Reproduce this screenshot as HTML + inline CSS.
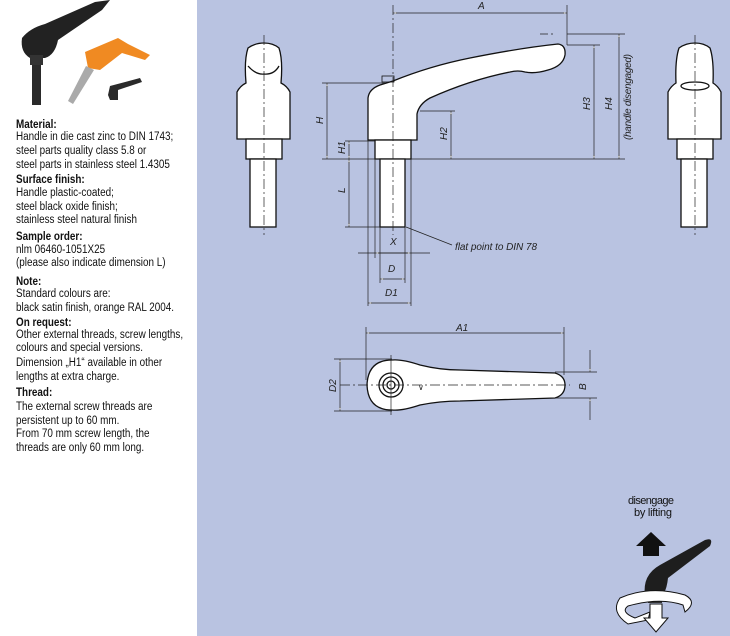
<!DOCTYPE html>
<html><head><meta charset="utf-8"><style>
html,body{margin:0;padding:0;width:730px;height:636px;overflow:hidden;background:#fff}
#l{position:absolute;left:0;top:0;width:197px;height:636px;background:#fff}
#r{position:absolute;left:197px;top:0;width:533px;height:636px;background:#b9c3e1}
.t{position:absolute;left:16px;font-family:"Liberation Sans",sans-serif;font-size:11.5px;line-height:12px;color:#111;white-space:nowrap;transform:scaleX(0.86);transform-origin:0 0}
.b{font-weight:bold}
svg{position:absolute;left:0;top:0}
</style></head><body>
<div id="l"></div><div id="r"></div>
<svg width="730" height="636" viewBox="0 0 730 636">
<defs>
<marker id="a" viewBox="0 0 10 6" refX="10" refY="3" markerWidth="8" markerHeight="3" orient="auto-start-reverse"><path d="M0,0 L10,3 L0,6 z" fill="#fff" stroke="#222" stroke-width="0.8"/></marker>
</defs>
<!-- photos -->
<path d="M22,38 Q30,28 45,24 L95,2 L110,0 L102,10 L58,40 Q55,55 45,58 L30,58 Q20,52 22,38z" fill="#222"/>
<rect x="30" y="55" width="13" height="10" fill="#333"/>
<rect x="32" y="65" width="9" height="40" fill="#2a2a2a"/>
<path d="M85,52 L118,38 L128,44 L150,55 L145,60 L122,53 L100,70 L88,68z" fill="#f08a22"/>
<path d="M86,66 L94,70 L73,104 L68,101z" fill="#aaa"/>
<path d="M108,95 L110,86 L140,78 L142,82 L118,90 L118,100 L110,100z" fill="#2a2a2a"/>
<g stroke="#111" stroke-width="1.3" fill="#fff">
<path d="M368,140 L368,98 Q369,89 380,85 L393,81 Q430,66 470,58 Q520,48 558,44 Q566,45 565,55 Q563,66 548,70 Q535,74 525,72 Q518,70 510,72 Q470,80 430,98 Q419,104 417,114 L417,140 z"/>
<rect x="375" y="140" width="36" height="19"/>
<rect x="380" y="159" width="25" height="68"/>
<rect x="382" y="76" width="12" height="6" fill="none" stroke-width="0.8"/>
<path d="M237,139 L237,92 Q240,86 246,83 Q244,60 248,48 Q255,43 264,43 Q273,43 279,48 Q283,60 281,83 Q287,86 290,92 L290,139 z"/>
<path d="M248,66 Q256,75 264,74 Q274,75 279,66" fill="none"/>
<rect x="246" y="139" width="36" height="20"/>
<rect x="250" y="159" width="26" height="68"/>
<path d="M668,139 L668,92 Q671,86 676,83 Q675,60 679,48 Q686,43 695,43 Q704,43 710,48 Q714,60 713,83 Q718,86 721,92 L721,139 z"/>
<ellipse cx="695" cy="86" rx="14" ry="4" fill="none"/>
<rect x="677" y="139" width="36" height="20"/>
<rect x="681" y="159" width="26" height="68"/>
<path d="M392,360 Q402,359 420,365 Q440,370 460,370 L555,373 Q565,376 565,385 Q565,395 555,398 L460,401 Q440,401 420,405 Q402,411 392,410 Q368,410 367,385 Q368,360 392,360 z"/>
<circle cx="391" cy="385" r="12"/>
<circle cx="391" cy="385" r="8"/>
<circle cx="391" cy="385" r="4"/>
</g>
<g stroke="#222" stroke-width="0.7" fill="none">
<line x1="264" y1="35" x2="264" y2="235" stroke-dasharray="10,3,2,3"/>
<line x1="695" y1="35" x2="695" y2="235" stroke-dasharray="10,3,2,3"/>
<line x1="393" y1="5" x2="393" y2="235" stroke-dasharray="10,3,2,3"/>
<line x1="340" y1="385" x2="570" y2="385" stroke-dasharray="10,3,2,3"/>
<line x1="391" y1="355" x2="391" y2="415"/>
<line x1="567" y1="5" x2="567" y2="45"/>
<line x1="322" y1="159" x2="625" y2="159"/>
<line x1="322" y1="83" x2="385" y2="83"/>
<line x1="345" y1="141" x2="375" y2="141"/>
<line x1="345" y1="227" x2="380" y2="227"/>
<line x1="420" y1="111" x2="455" y2="111"/>
<line x1="567" y1="45" x2="600" y2="45"/>
<line x1="567" y1="34" x2="625" y2="34"/>
<line x1="540" y1="34" x2="555" y2="34" stroke-dasharray="8,3,2,3"/>
<line x1="375" y1="159" x2="375" y2="258"/><line x1="411" y1="159" x2="411" y2="306"/>
<line x1="368" y1="140" x2="368" y2="306"/><line x1="380" y1="227" x2="380" y2="283"/><line x1="405" y1="227" x2="405" y2="283"/>
<line x1="358" y1="253" x2="430" y2="253"/>
<line x1="406" y1="227" x2="452" y2="245"/>
<line x1="366" y1="327" x2="366" y2="380"/><line x1="564" y1="327" x2="564" y2="375"/>
<line x1="334" y1="359" x2="392" y2="359"/><line x1="334" y1="411" x2="392" y2="411"/>
<line x1="555" y1="372" x2="597" y2="372"/><line x1="555" y1="398" x2="597" y2="398"/>
</g>
<g stroke="#222" stroke-width="0.7" marker-start="url(#a)" marker-end="url(#a)">
<line x1="393" y1="13" x2="567" y2="13"/>
<line x1="327" y1="83" x2="327" y2="159"/>
<line x1="349" y1="141" x2="349" y2="159"/>
<line x1="349" y1="159" x2="349" y2="227"/>
<line x1="451" y1="111" x2="451" y2="159"/>
<line x1="594" y1="45" x2="594" y2="159"/>
<line x1="619" y1="34" x2="619" y2="159"/>
<line x1="375" y1="253" x2="411" y2="253"/>
<line x1="380" y1="279" x2="405" y2="279"/>
<line x1="368" y1="303" x2="411" y2="303"/>
<line x1="366" y1="333" x2="564" y2="333"/>
<line x1="340" y1="359" x2="340" y2="411"/>
</g>
<g stroke="#222" stroke-width="0.7" marker-end="url(#a)">
<line x1="590" y1="350" x2="590" y2="372"/><line x1="590" y1="420" x2="590" y2="398"/>
</g>
<g font-family="Liberation Sans,sans-serif" font-size="10" font-style="italic" fill="#222">
<text x="478" y="9">A</text>
<text x="456" y="331">A1</text>
<text x="390" y="245">X</text>
<text x="388" y="272">D</text>
<text x="385" y="296">D1</text>
<text x="455" y="250" textLength="82">flat point to DIN 78</text>
<text transform="translate(323,124) rotate(-90)">H</text>
<text transform="translate(345,154) rotate(-90)">H1</text>
<text transform="translate(345,193) rotate(-90)">L</text>
<text transform="translate(447,140) rotate(-90)">H2</text>
<text transform="translate(590,110) rotate(-90)">H3</text>
<text transform="translate(612,110) rotate(-90)">H4</text>
<text transform="translate(631,140) rotate(-90)" textLength="86">(handle disengaged)</text>
<text transform="translate(336,392) rotate(-90)">D2</text>
<text transform="translate(586,390) rotate(-90)">B</text>
</g>
<text x="418" y="390" font-family="Liberation Sans,sans-serif" font-size="8" fill="#222">&#x2228;</text>
<g font-family="Liberation Sans,sans-serif" font-size="11" fill="#111" text-anchor="middle">
<text x="651" y="504" textLength="46">disengage</text><text x="653" y="516" textLength="38">by lifting</text>
</g>
<path d="M643,556 L643,546 L636,546 L651,532 L666,546 L659,546 L659,556z" fill="#111"/>
<path d="M645,596 Q642,575 660,565 L705,540 Q714,537 710,546 L668,578 Q666,598 655,600z" fill="#1e1e1e"/>
<rect x="648" y="595" width="14" height="8" fill="#333"/>
<path d="M620,598 Q650,585 685,595 Q698,602 685,612 L683,605 Q660,597 628,606 Q620,612 635,618 L650,612 L648,620 L628,624 Q610,612 620,598z" fill="#fff" stroke="#111" stroke-width="1"/>
<path d="M650,604 L662,604 L662,618 L668,618 L656,632 L644,618 L650,618z" fill="#fff" stroke="#111" stroke-width="1"/>
</svg>
<div class="t b" style="top:119px">Material:</div>
<div class="t" style="top:131px">Handle in die cast zinc to DIN 1743;</div>
<div class="t" style="top:145px">steel parts quality class 5.8 or</div>
<div class="t" style="top:159px">steel parts in stainless steel 1.4305</div>
<div class="t b" style="top:174px">Surface finish:</div>
<div class="t" style="top:187px">Handle plastic-coated;</div>
<div class="t" style="top:201px">steel black oxide finish;</div>
<div class="t" style="top:214px">stainless steel natural finish</div>
<div class="t b" style="top:231px">Sample order:</div>
<div class="t" style="top:244px">nlm 06460-1051X25</div>
<div class="t" style="top:257px">(please also indicate dimension L)</div>
<div class="t b" style="top:276px">Note:</div>
<div class="t" style="top:288px">Standard colours are:</div>
<div class="t" style="top:302px">black satin finish, orange RAL 2004.</div>
<div class="t b" style="top:317px">On request:</div>
<div class="t" style="top:329px">Other external threads, screw lengths,</div>
<div class="t" style="top:342px">colours and special versions.</div>
<div class="t" style="top:357px">Dimension „H1“ available in other</div>
<div class="t" style="top:371px">lengths at extra charge.</div>
<div class="t b" style="top:387px">Thread:</div>
<div class="t" style="top:401px">The external screw threads are</div>
<div class="t" style="top:415px">persistent up to 60 mm.</div>
<div class="t" style="top:428px">From 70 mm screw length, the</div>
<div class="t" style="top:442px">threads are only 60 mm long.</div>
</body></html>
